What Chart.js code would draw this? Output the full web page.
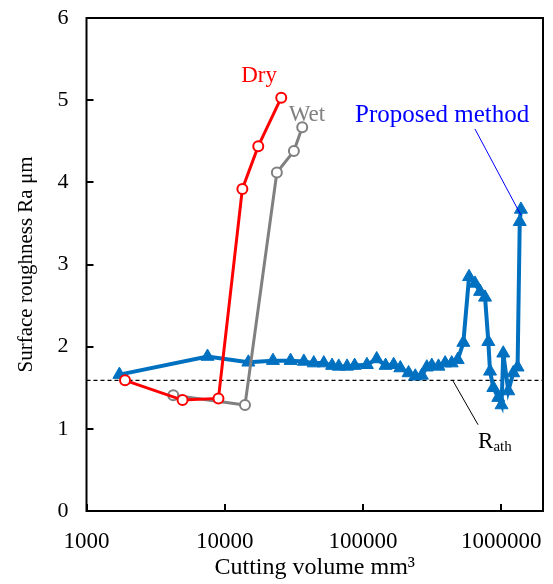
<!DOCTYPE html>
<html>
<head>
<meta charset="utf-8">
<script src="https://cdn.jsdelivr.net/npm/chart.js@4.4.0/dist/chart.umd.min.js"></script>
<style>
  html, body { margin: 0; padding: 0; background: #fff; }
  #wrap { width: 553px; height: 584px; position: relative; }
</style>
</head>
<body>
<div id="wrap"><canvas id="c" width="553" height="584"></canvas></div>
<script>
// ---- data (cutting volume mm3, surface roughness Ra um) ----
const xTickValues = [1000, 10000, 100000, 1000000];
const yTickValues = [0, 1, 2, 3, 4, 5, 6];

const dryX = [1900, 4950, 9000, 13400, 17460, 25600];
const dryY = [1.59, 1.35, 1.37, 3.92, 4.44, 5.03];

const wetX = [4240, 14000, 23800, 31600, 36300];
const wetY = [1.41, 1.29, 4.12, 4.38, 4.67];

const propX = [1730, 7500, 14800, 22300, 29900, 37300, 44000, 52000, 59700, 66700,
  76600, 86900, 106600, 125400, 145500, 166300, 185900, 213300, 238400, 266000,
  289000, 314000, 350900, 392000, 437500, 483300, 531000, 583900, 645000, 701300,
  762000, 805000, 828000, 875000, 950000, 1003000, 1032000, 1122000, 1219000, 1310000,
  1358000, 1385000];
const propY = [1.66, 1.88, 1.81, 1.83, 1.83, 1.82, 1.80, 1.80, 1.77, 1.76,
  1.76, 1.77, 1.78, 1.85, 1.77, 1.78, 1.74, 1.68, 1.64, 1.65,
  1.75, 1.77, 1.76, 1.80, 1.80, 1.84, 2.05, 2.85, 2.77, 2.67,
  2.60, 2.06, 1.70, 1.50, 1.38, 1.29, 1.92, 1.46, 1.68, 1.75,
  3.52, 3.67];

const rathValue = 1.59;
const xMin = 1000, xMax = 2000000, yMin = 0, yMax = 6;

const toPts = (xs, ys) => xs.map((x, i) => ({ x: x, y: ys[i] }));

// annotation text / leader lines in data coordinates
const labels = [
  { text: 'Dry', x: 17700, y: 5.29, color: '#FF0000', size: 23 },
  { text: 'Wet', x: 39300, y: 4.82, color: '#808080', size: 23 },
  { text: 'Proposed method', x: 373000, y: 4.81, color: '#0000FF', size: 25 }
];
const leaders = [
  { x1: 644000, y1: 4.65, x2: 1385000, y2: 3.60, color: '#0000FF' },
  { x1: 448000, y1: 1.58, x2: 678000, y2: 1.05, color: '#000000' }
];
const rathLabel = { main: 'R', sub: 'ath', x: 898000, y: 0.86 };

const FONT = "'Liberation Serif', 'Times New Roman', serif";

const decorPlugin = {
  id: 'decor',
  afterDatasetsDraw(chart) {
    const ctx = chart.ctx;
    const xs = chart.scales.x, ys = chart.scales.y;
    const a = chart.chartArea;
    ctx.save();
    // leader lines
    leaders.forEach(l => {
      ctx.beginPath();
      ctx.strokeStyle = l.color;
      ctx.lineWidth = 1;
      ctx.moveTo(xs.getPixelForValue(l.x1), ys.getPixelForValue(l.y1));
      ctx.lineTo(xs.getPixelForValue(l.x2), ys.getPixelForValue(l.y2));
      ctx.stroke();
    });
    // labels
    ctx.textAlign = 'center';
    ctx.textBaseline = 'middle';
    labels.forEach(t => {
      ctx.font = t.size + 'px ' + FONT;
      ctx.fillStyle = t.color;
      ctx.fillText(t.text, xs.getPixelForValue(t.x), ys.getPixelForValue(t.y));
    });
    // R_ath
    const rx = xs.getPixelForValue(rathLabel.x), ry = ys.getPixelForValue(rathLabel.y);
    ctx.fillStyle = '#000';
    ctx.font = '23px ' + FONT;
    const wMain = ctx.measureText(rathLabel.main).width;
    ctx.font = '15px ' + FONT;
    const wSub = ctx.measureText(rathLabel.sub).width;
    const start = rx - (wMain + wSub) / 2;
    ctx.textAlign = 'left';
    ctx.textBaseline = 'alphabetic';
    ctx.font = '23px ' + FONT;
    ctx.fillText(rathLabel.main, start, ry + 8);
    ctx.font = '15px ' + FONT;
    ctx.fillText(rathLabel.sub, start + wMain, ry + 11);

    // frame
    ctx.strokeStyle = '#000';
    ctx.lineWidth = 2;
    ctx.strokeRect(a.left, a.top, a.right - a.left, a.bottom - a.top);
    // inward ticks
    xTickValues.forEach(v => {
      const px = Math.round(xs.getPixelForValue(v));
      ctx.beginPath();
      ctx.moveTo(px, a.bottom);
      ctx.lineTo(px, a.bottom - 7);
      ctx.stroke();
    });
    yTickValues.forEach(v => {
      const py = Math.round(ys.getPixelForValue(v));
      ctx.beginPath();
      ctx.moveTo(a.left, py);
      ctx.lineTo(a.left + 7, py);
      ctx.stroke();
    });
    ctx.restore();
  }
};

const zeroPad = s => { s.paddingTop = 0; s.paddingBottom = 0; s.paddingLeft = 0; s.paddingRight = 0; };

new Chart(document.getElementById('c'), {
  type: 'line',
  data: {
    datasets: [
      {
        label: 'Dry', data: toPts(dryX, dryY),
        borderColor: '#FF0000', borderWidth: 3,
        pointStyle: 'circle', pointRadius: 5, pointBorderWidth: 2,
        pointBackgroundColor: '#FFFFFF', pointBorderColor: '#FF0000',
        tension: 0
      },
      {
        label: 'Wet', data: toPts(wetX, wetY),
        borderColor: '#808080', borderWidth: 3,
        pointStyle: 'circle', pointRadius: 5, pointBorderWidth: 2,
        pointBackgroundColor: '#FFFFFF', pointBorderColor: '#808080',
        tension: 0
      },
      {
        label: 'Proposed method', data: toPts(propX, propY),
        borderColor: '#0070C0', borderWidth: 4,
        pointStyle: 'triangle', pointRadius: 7.5, pointBorderWidth: 1,
        pointBackgroundColor: '#0070C0', pointBorderColor: '#0070C0',
        tension: 0
      },
      {
        label: 'Rath', data: [{ x: xMin, y: rathValue }, { x: xMax, y: rathValue }],
        borderColor: '#000000', borderWidth: 1.2, borderDash: [4, 3],
        pointRadius: 0, tension: 0
      }
    ]
  },
  options: {
    responsive: false,
    animation: false,
    events: [],
    layout: { padding: { top: 18, right: 10, left: 0, bottom: 0 } },
    plugins: { legend: { display: false }, tooltip: { enabled: false } },
    scales: {
      x: {
        type: 'logarithmic', position: 'bottom', min: xMin, max: xMax,
        afterBuildTicks: s => { s.ticks = xTickValues.map(v => ({ value: v })); },
        afterFit: s => { s.height = 73; zeroPad(s); },
        grid: { display: false, drawTicks: false },
        border: { display: false },
        ticks: {
          autoSkip: false, maxRotation: 0, padding: 17, color: '#000',
          font: { family: FONT, size: 23 },
          callback: v => String(v)
        },
        title: {
          display: true, text: 'Cutting volume mm³', color: '#000',
          font: { family: FONT, size: 24 }, padding: { top: 0, bottom: 2 }
        }
      },
      y: {
        type: 'linear', min: yMin, max: yMax,
        afterBuildTicks: s => { s.ticks = yTickValues.map(v => ({ value: v })); },
        afterFit: s => { s.width = 86.5; zeroPad(s); },
        grid: { display: false, drawTicks: false },
        border: { display: false },
        ticks: {
          padding: 18, color: '#000',
          font: { family: FONT, size: 22 },
          callback: v => String(v)
        },
        title: {
          display: true, text: 'Surface roughness Ra μm', color: '#000',
          font: { family: FONT, size: 21 }, padding: { top: 14, bottom: 0 }
        }
      }
    }
  },
  plugins: [decorPlugin]
});
</script>
</body>
</html>
